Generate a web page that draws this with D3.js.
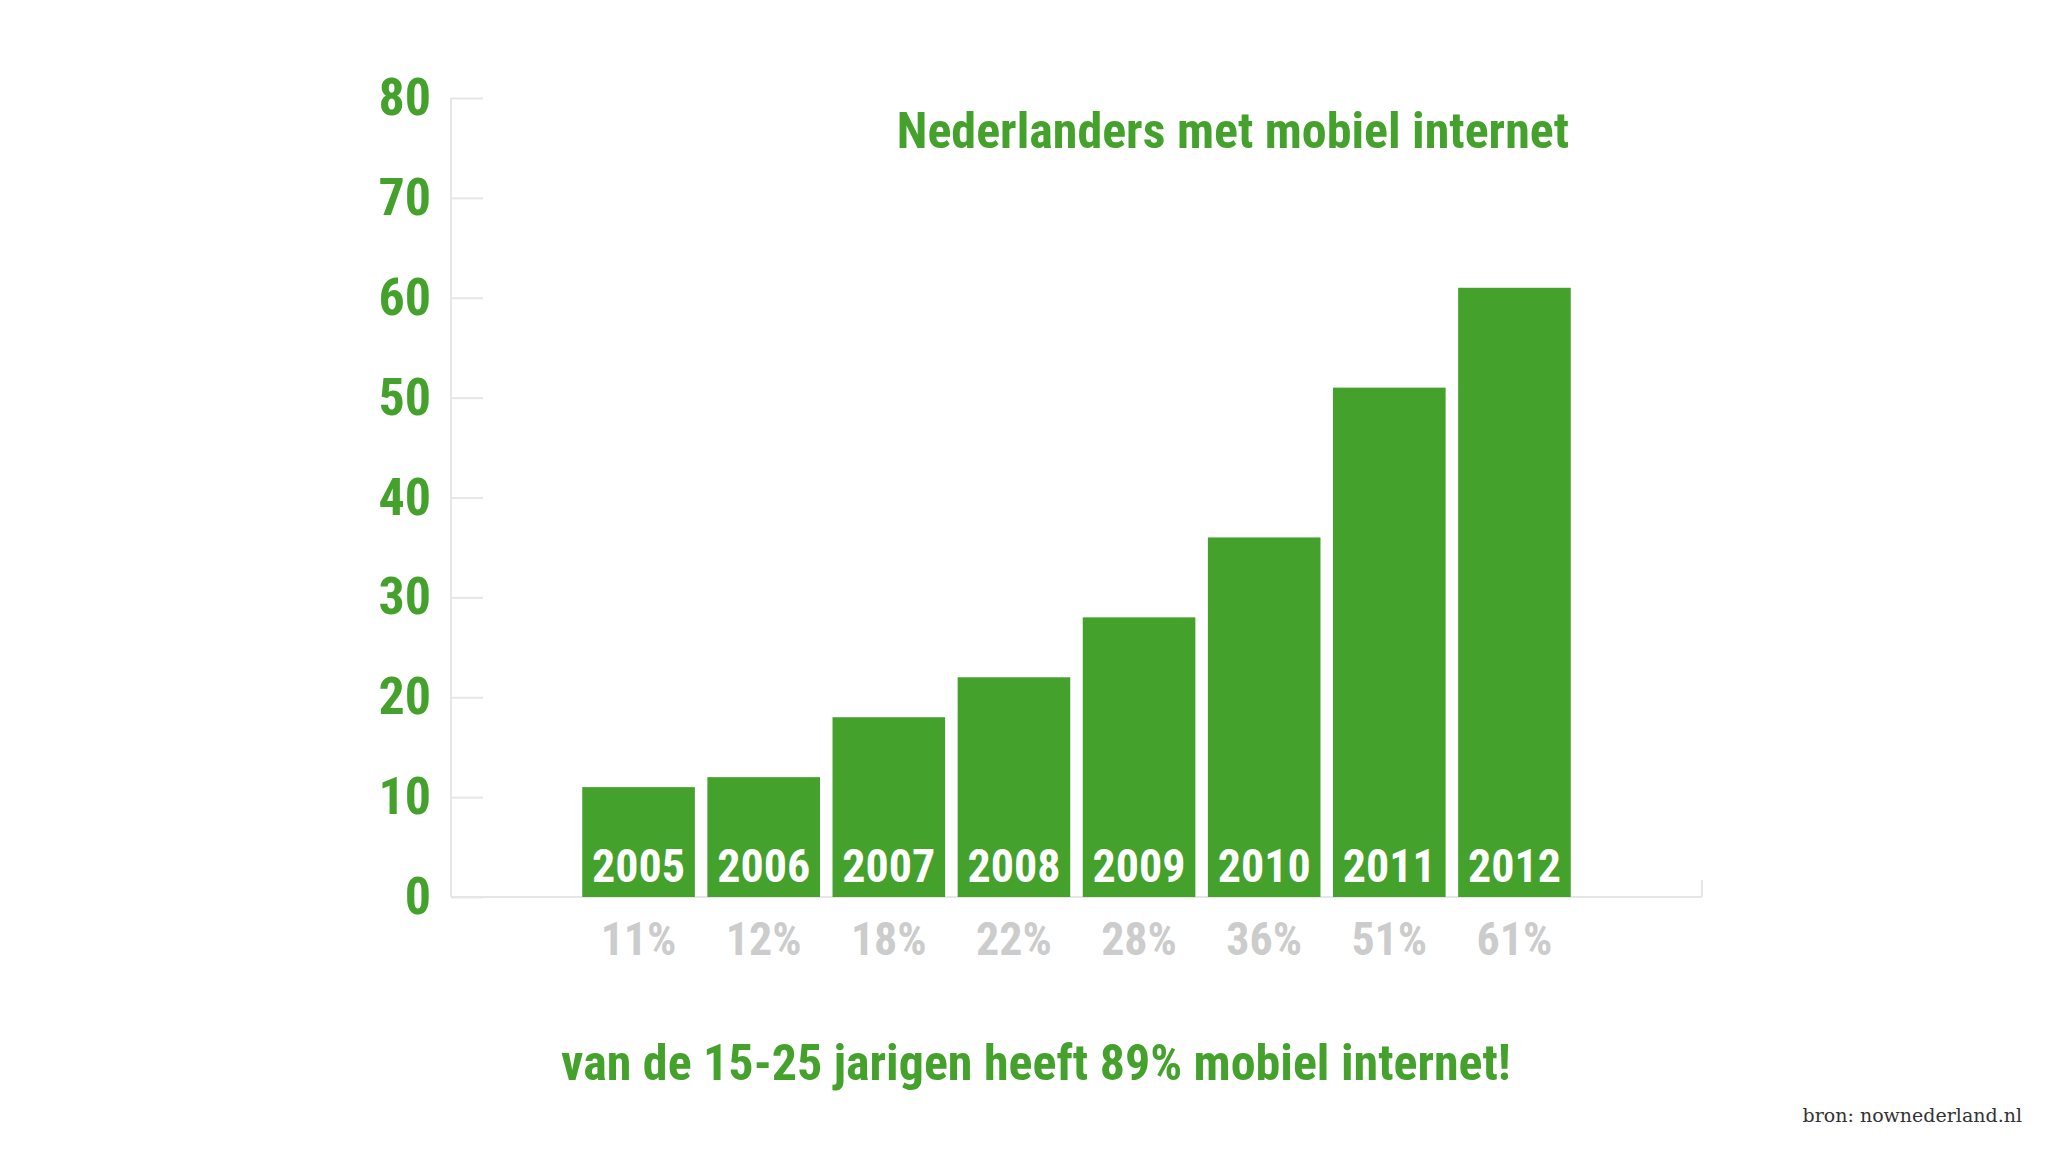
<!DOCTYPE html>
<html><head><meta charset="utf-8">
<script src="https://cdn.jsdelivr.net/npm/d3@7"></script>
<style>body{margin:0;background:#fff}</style></head>
<body><svg id="c" width="2048" height="1152"></svg>
<script>
const years = ["2005","2006","2007","2008","2009","2010","2011","2012"];
const values = [11,12,18,22,28,36,51,61];
const yTicks = [0,10,20,30,40,50,60,70,80];
const green = "#44a22c";
const font = "'Liberation Sans Narrow','Roboto Condensed','Open Sans',sans-serif";
const svg = d3.select("#c");
const y = d3.scaleLinear().domain([0,80]).range([897,98]);
const x = d3.scaleBand().domain(years).range([576,1577]).paddingInner(0.1).paddingOuter(0.05);
// axes lines
svg.append("line").attr("x1",451).attr("x2",451).attr("y1",98).attr("y2",897).attr("stroke","#e6e6e6").attr("stroke-width",2);
svg.append("line").attr("x1",451).attr("x2",1702).attr("y1",897).attr("y2",897).attr("stroke","#e6e6e6").attr("stroke-width",2);
svg.append("line").attr("x1",1702).attr("x2",1702).attr("y1",880).attr("y2",897).attr("stroke","#e6e6e6").attr("stroke-width",2);
const yAxis = d3.axisRight(y).tickValues(yTicks).tickSize(32).tickFormat("");
const g = svg.append("g").attr("transform","translate(451,0)").call(yAxis);
g.select(".domain").remove();
g.selectAll(".tick line").attr("stroke","#e6e6e6").attr("stroke-width",2);
svg.selectAll(".ylab").data(yTicks).join("text").attr("x",431).attr("y",d=>y(d)+17)
  .attr("text-anchor","end").attr("font-family",font).attr("font-weight","bold").attr("font-size",52)
  .attr("fill",green).text(d=>d);
svg.selectAll(".bar").data(values).join("rect").attr("x",(d,i)=>x(years[i])).attr("width",x.bandwidth())
  .attr("y",d=>y(d)).attr("height",d=>y(0)-y(d)).attr("fill",green);
svg.selectAll(".yr").data(years).join("text").attr("x",d=>x(d)+x.bandwidth()/2).attr("y",882)
  .attr("text-anchor","middle").attr("font-family",font).attr("font-weight","bold").attr("font-size",46)
  .attr("fill","#fff").text(d=>d);
svg.selectAll(".pc").data(values).join("text").attr("x",(d,i)=>x(years[i])+x.bandwidth()/2).attr("y",955)
  .attr("text-anchor","middle").attr("font-family",font).attr("font-weight","bold").attr("font-size",46)
  .attr("fill","#cccccc").text(d=>d+"%");
svg.append("text").attr("x",1569).attr("y",148).attr("text-anchor","end").attr("font-family",font)
  .attr("font-weight","bold").attr("font-size",50).attr("fill",green).text("Nederlanders met mobiel internet");
svg.append("text").attr("x",1036).attr("y",1080).attr("text-anchor","middle").attr("font-family",font)
  .attr("font-weight","bold").attr("font-size",50).attr("fill",green).text("van de 15-25 jarigen heeft 89% mobiel internet!");
svg.append("text").attr("x",2022).attr("y",1122).attr("text-anchor","end").attr("font-family","'DejaVu Serif',serif")
  .attr("font-size",19).attr("fill","#333").text("bron: nownederland.nl");
</script></body></html>
